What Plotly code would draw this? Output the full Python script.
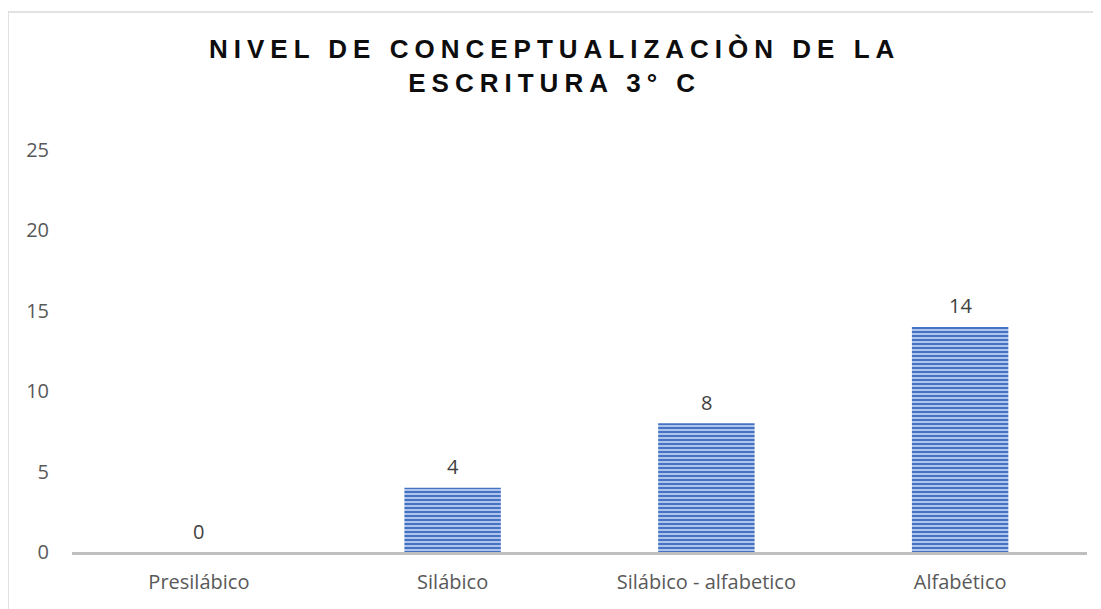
import plotly.graph_objects as go

# ── Data ──────────────────────────────────────────────────────────
categories = ["Presilábico", "Silábico", "Silábico - alfabetico", "Alfabético"]
values = [0, 4, 8, 14]
y_ticks = [0, 5, 10, 15, 20, 25]

TITLE = "NIVEL DE CONCEPTUALIZACIÒN DE LA<br>ESCRITURA 3° C"

BLUE = "#4472C4"
LIGHT_BLUE = "#c9d7f1"
AXIS_GRAY = "#bfbfbf"
TEXT_GRAY = "#595959"
FONT_FAMILY = "Open Sans"

# page body adds an 8px offset, so the figure is laid out in shifted coords
W, H = 1093, 601
L, T, R, B = 64, 142, 14, 57
PLOT_H = H - T - B

fig = go.Figure(go.Bar(
    x=categories,
    y=values,
    marker=dict(
        color=LIGHT_BLUE,
        line=dict(width=0),
        pattern=dict(shape="-", fgcolor=BLUE, bgcolor=LIGHT_BLUE, fgopacity=1,
                     size=4, solidity=0.6, fillmode="replace"),
    ),
    hovertemplate="<b>%{x}</b><br>%{y}<extra></extra>",
))

# value labels above the bars
for cat, val in zip(categories, values):
    fig.add_annotation(
        x=cat, y=val, text=str(val), showarrow=False,
        yanchor="middle", yshift=21,
        font=dict(family=FONT_FAMILY, size=20, color="#404040"),
    )

# title, letter-spaced like the original
fig.add_annotation(
    text=f"<span style='letter-spacing:6px'><b>{TITLE}</b></span>",
    xref="paper", yref="paper",
    x=(546 - L) / (W - L - R), y=(H - B - 58) / PLOT_H,
    xanchor="center", yanchor="middle",
    showarrow=False,
    font=dict(family="Liberation Sans, Arial", size=26, color="#0d0d0d"),
)

# light chart border
fig.add_shape(
    type="rect", xref="paper", yref="paper",
    x0=(0 - L) / (W - L - R), x1=(W + 20 - L) / (W - L - R),
    y0=(H - B - H - 20) / PLOT_H, y1=(H - B - 4) / PLOT_H,
    line=dict(color="#d9d9d9", width=1.5),
)

fig.update_layout(
    width=W, height=H,
    margin=dict(l=L, r=R, t=T, b=B),
    plot_bgcolor="white", paper_bgcolor="white",
    bargap=0.62,
    showlegend=False,
    font=dict(family=FONT_FAMILY, color=TEXT_GRAY, size=20),
    xaxis=dict(showgrid=False, showline=True, linecolor=AXIS_GRAY, linewidth=3,
               ticks="", tickfont=dict(size=20, color=TEXT_GRAY),
               ticklabelstandoff=10),
    yaxis=dict(range=[0, 25], tickvals=y_ticks, showgrid=False, zeroline=False,
               showline=False, ticks="", tickfont=dict(size=20, color=TEXT_GRAY),
               ticklabelstandoff=22),
)

fig.write_html("out.html")
